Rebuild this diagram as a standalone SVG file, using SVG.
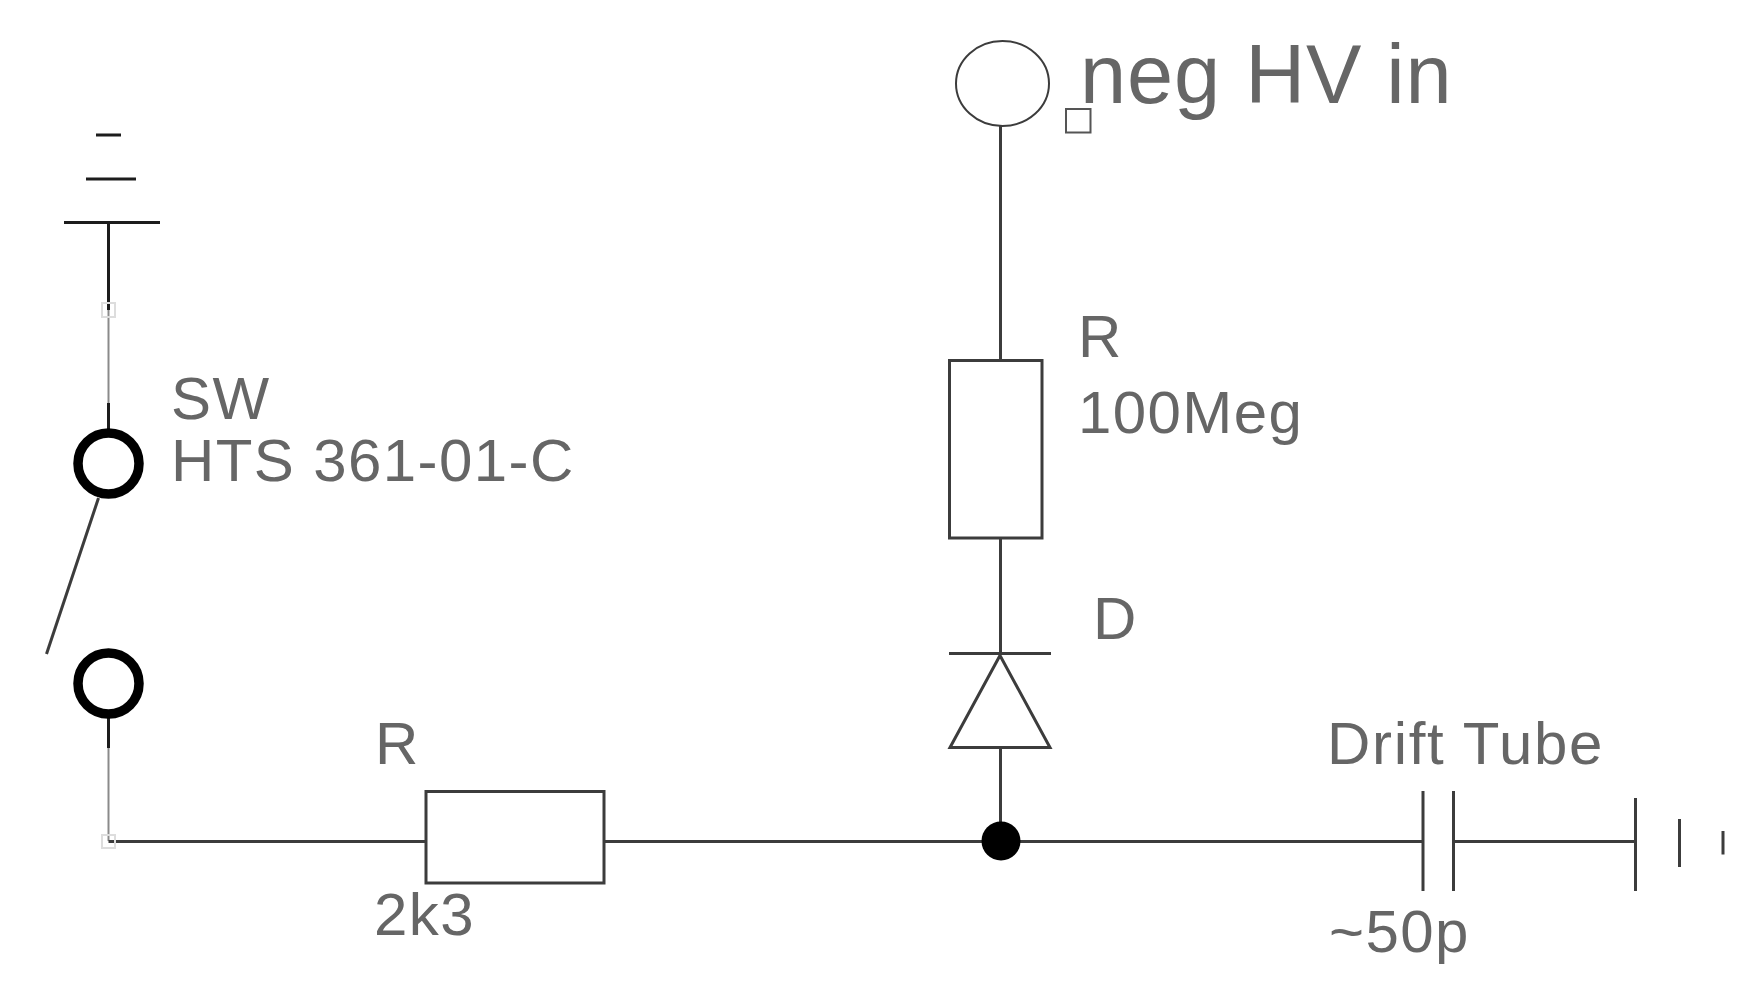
<svg xmlns="http://www.w3.org/2000/svg" width="1757" height="984" viewBox="0 0 1757 984">
<style>
.w{stroke:#3c3c3c;stroke-width:3;fill:none;stroke-linecap:butt}
.b{fill:#fff;stroke:#3c3c3c;stroke-width:3}
.k{stroke:#1c1c1c;stroke-width:3;fill:none}
.g{stroke:#8a8a8a;stroke-width:2;fill:none}
.sq{fill:none;stroke:#ddd;stroke-width:2}
.ring{fill:#fff;stroke:#000;stroke-width:9.5}
text{font-family:"Liberation Sans",Arial,sans-serif;font-size:60px;fill:#666;letter-spacing:1.4px}
</style>
<rect width="1757" height="984" fill="#fff"/>
<g id="connectors">
<path class="k" d="M108.500 222V310"/>
<path class="g" d="M108.500 310V403"/>
<path class="k" d="M108.500 403V432"/>
<path class="k" d="M108.500 715V748"/>
<path class="g" d="M108.500 748V841"/>
<path class="w" d="M108.500 841.500H426M604 841.500H1423M1453.500 841.500H1635.500"/>
<path class="w" d="M1000.500 125V360M1000.500 538V653M1000.500 747V841"/>
</g>
<g id="ground-top">
<path class="k" d="M96 135H121M86 179H136M64 222.500H160"/>
</g>
<g id="wire-marker-1"><rect class="sq" x="102" y="303" width="13" height="14"/></g>
<g id="wire-marker-2"><rect class="sq" x="102" y="835" width="13" height="13"/></g>
<g id="switch">
<circle class="ring" cx="108.500" cy="463.500" r="30.500"/>
<circle class="ring" cx="108.500" cy="683.500" r="30.500"/>
<path class="w" d="M98.500 498L46.500 654"/>
<text x="171" y="419">SW</text>
<text x="171" y="481">HTS 361-01-C</text>
</g>
<g id="resistor-2k3">
<rect class="b" x="426" y="791.500" width="178" height="91.500"/>
<text x="375" y="764">R</text>
<text x="374" y="935">2k3</text>
</g>
<g id="input-hv">
<ellipse cx="1002.500" cy="83.500" rx="46.500" ry="42.500" fill="#fff" stroke="#3c3c3c" stroke-width="2"/>
<rect x="1066" y="109" width="24.500" height="23.500" fill="#fff" stroke="#555" stroke-width="2"/>
<text x="1080" y="103" style="font-size:83px;letter-spacing:.9px">neg HV in</text>
</g>
<g id="resistor-100meg">
<rect class="b" x="949.500" y="360.500" width="92.500" height="177.500"/>
<text x="1078" y="356.500">R</text>
<text x="1078" y="433">100Meg</text>
</g>
<g id="diode">
<path class="w" d="M949 653.500H1051"/>
<path class="b" d="M1000 655.500L1050 747.500H950Z"/>
<text x="1093" y="639">D</text>
</g>
<g id="junction"><circle cx="1001" cy="841" r="19.500" fill="#000"/></g>
<g id="capacitor">
<path class="w" d="M1423 791V891M1453.500 791V891"/>
<text x="1327" y="764" style="letter-spacing:1.7px">Drift Tube</text>
<text x="1329" y="952">~50p</text>
</g>
<g id="ground-right">
<path class="w" d="M1635.500 798V891M1679.500 819V867M1723 831V854.500"/>
</g>
</svg>
